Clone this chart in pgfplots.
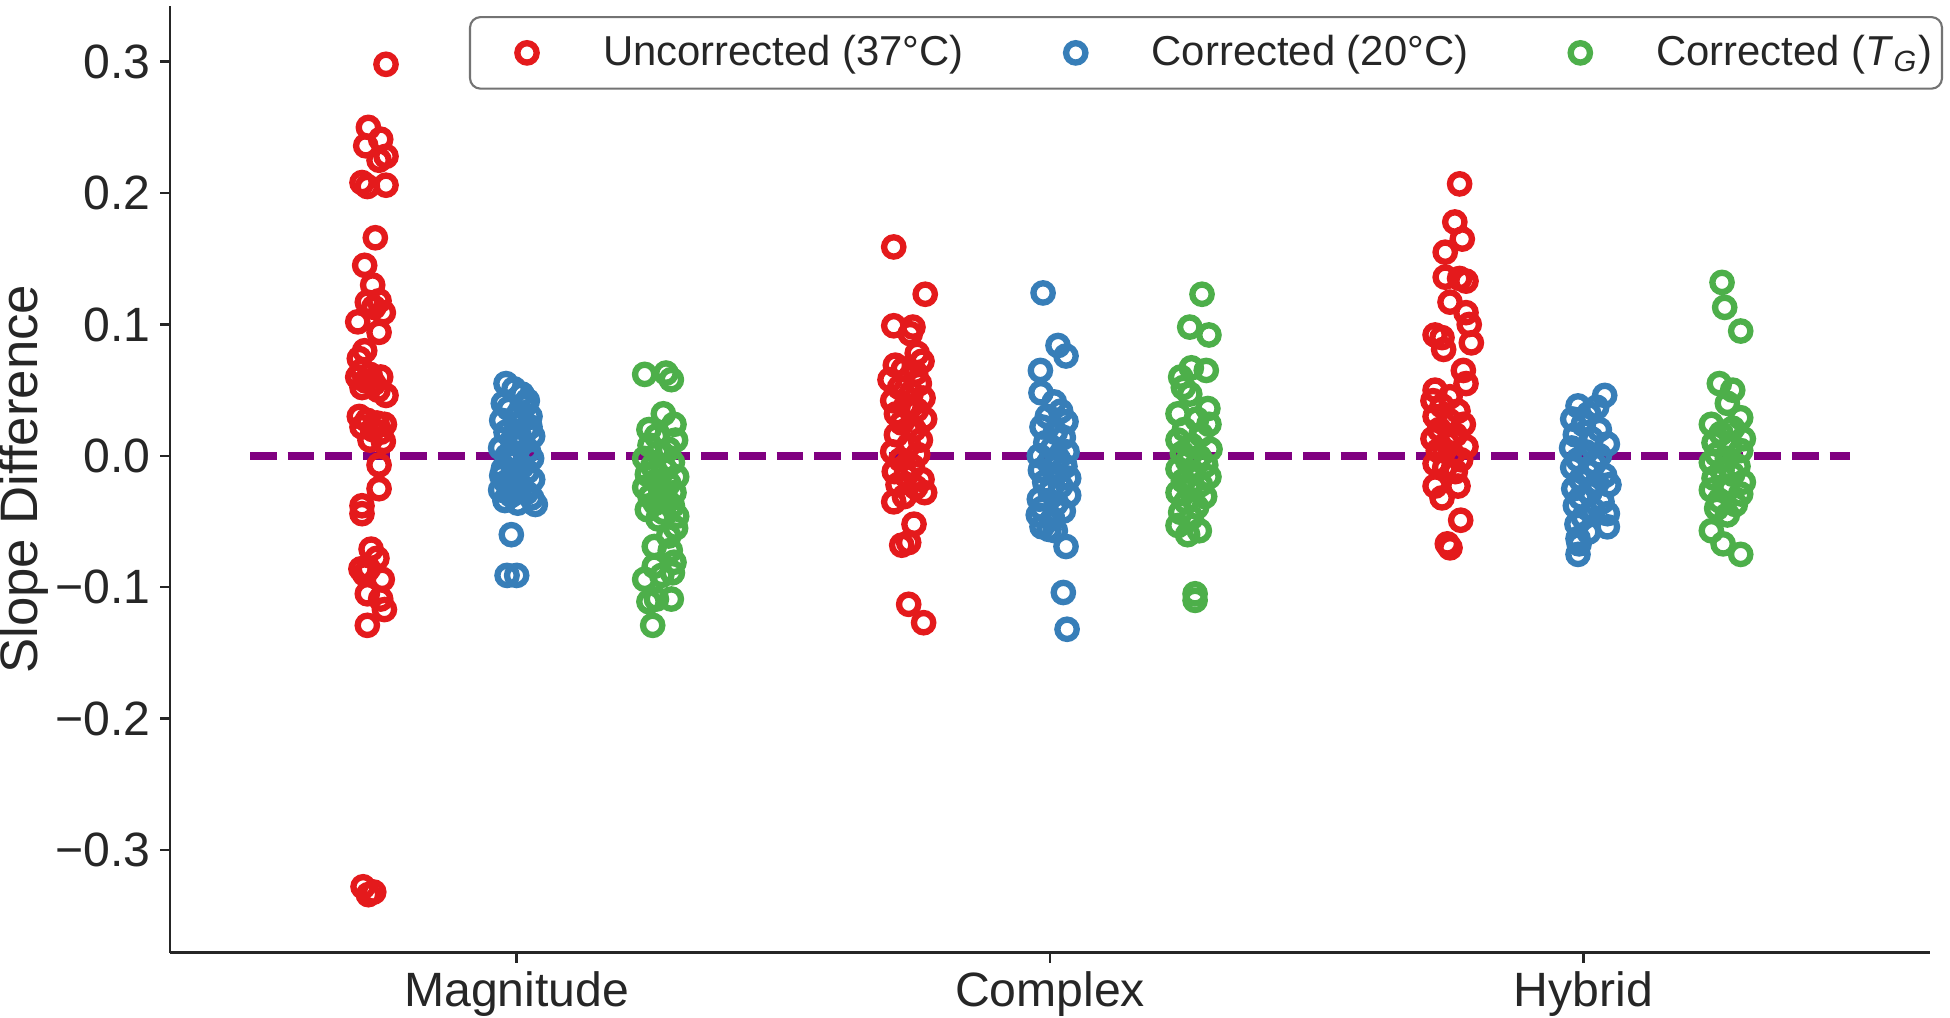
\documentclass[border=0pt]{standalone}
\usepackage{fontspec}
\setmainfont{Liberation Sans}
\usepackage{pgfplots}
\pgfplotsset{compat=1.18}
\definecolor{cred}{HTML}{E41A1C}
\definecolor{cblue}{HTML}{377EB8}
\definecolor{cgreen}{HTML}{4DAF4A}
\definecolor{cpurple}{HTML}{800080}
\definecolor{cspine}{HTML}{262626}
\pgfplotsset{
  ringlegend/.style={legend image code/.code={\path[draw=none,fill=none] (0,-0.17cm) rectangle (1.23cm,0.17cm); \draw[##1, only marks] plot coordinates {(0.47cm,0cm)};}},
}
\begin{document}
\begin{tikzpicture}
\begin{axis}[
  scale only axis, width=17.6cm, height=9.466cm,
  xmin=-0.65, xmax=2.65, ymin=-0.3781, ymax=0.3424,
  axis lines*=left, axis line style={-, cspine, line width=0.7pt},
  xtick={0,1,2}, xticklabels={Magnitude,Complex,Hybrid},
  ytick={-0.3,-0.2,-0.1,0,0.1,0.2,0.3},
  yticklabels={−0.3,−0.2,−0.1,0.0,0.1,0.2,0.3},
  tick align=outside, major tick length=0.1cm,
  tick style={cspine, line width=0.7pt},
  tick label style={font=\fontsize{13.7}{16}\selectfont, text=cspine, inner sep=2.5pt},
  ylabel={Slope Difference},
  every axis y label/.style={at={(rel axis cs:0,0.5)}, xshift=-1.465cm, rotate=90, anchor=center,
    font=\fontsize{15}{17}\selectfont, text=cspine},
  legend columns=3,
  legend style={at={(1.0074,0.9894)}, anchor=north east, draw=black!55, line width=0.6pt,
    rounded corners=3pt, inner xsep=0.1cm, inner ysep=0.18cm,
    font=\fontsize{11.9}{14}\selectfont, text=cspine,
    nodes={inner sep=0pt},
    /tikz/every even column/.append style={column sep=0.65cm}},
  every axis plot/.append style={only marks, mark=o, mark size=2.75pt},
]
\coordinate (bl) at (rel axis cs:0,0);
\coordinate (tr) at (rel axis cs:1,1);
\addplot[forget plot, sharp plot, no markers, cpurple, line width=2.1pt, dash pattern=on 7.6pt off 3.1pt] coordinates {(-0.5,0) (2.5,0)};
% Uncorrected (37 C)
\addplot[cred, mark options={solid, line width=1.8pt}, ringlegend] coordinates {
(-0.245,0.298) (-0.278,0.250) (-0.255,0.241) (-0.283,0.236) (-0.245,0.228) (-0.258,0.225)
(-0.290,0.208) (-0.280,0.205) (-0.245,0.206) (-0.265,0.166) (-0.285,0.145) (-0.270,0.130)
(-0.280,0.117) (-0.258,0.118) (-0.268,0.113) (-0.250,0.109) (-0.298,0.102) (-0.258,0.094)
(-0.285,0.080) (-0.295,0.074) (-0.290,0.065) (-0.275,0.062) (-0.298,0.060) (-0.255,0.060)
(-0.283,0.057) (-0.268,0.055) (-0.290,0.052) (-0.260,0.050) (-0.245,0.046) (-0.295,0.030)
(-0.280,0.027) (-0.262,0.025) (-0.248,0.024) (-0.290,0.022) (-0.270,0.020) (-0.255,0.018)
(-0.275,0.012) (-0.250,0.011) (-0.258,-0.007) (-0.258,-0.025) (-0.290,-0.038) (-0.290,-0.044)
(-0.273,-0.071) (-0.262,-0.078) (-0.292,-0.086) (-0.278,-0.086) (-0.285,-0.090) (-0.252,-0.094)
(-0.280,-0.105) (-0.255,-0.109) (-0.248,-0.117) (-0.280,-0.129) (-0.288,-0.328) (-0.268,-0.332)
(-0.278,-0.334)
(0.707,0.159) (0.766,0.123) (0.707,0.099) (0.743,0.098) (0.738,0.093) (0.751,0.078)
(0.710,0.069) (0.760,0.072) (0.725,0.066) (0.748,0.063) (0.700,0.058) (0.755,0.055)
(0.718,0.052) (0.740,0.048) (0.762,0.044) (0.705,0.042) (0.730,0.038) (0.750,0.035)
(0.712,0.032) (0.765,0.028) (0.722,0.025) (0.745,0.020) (0.757,0.012) (0.712,0.016)
(0.735,0.008) (0.705,0.003) (0.752,0.001) (0.720,-0.003) (0.742,-0.008) (0.708,-0.012)
(0.730,-0.015) (0.760,-0.018) (0.715,-0.022) (0.748,-0.024) (0.765,-0.028) (0.707,-0.035)
(0.727,-0.031) (0.745,-0.052) (0.735,-0.066) (0.722,-0.068) (0.735,-0.113) (0.763,-0.127)
(1.768,0.207) (1.759,0.178) (1.773,0.165) (1.741,0.155) (1.741,0.136) (1.768,0.135)
(1.780,0.133) (1.750,0.117) (1.780,0.109) (1.786,0.100) (1.722,0.092) (1.735,0.090)
(1.790,0.086) (1.738,0.081) (1.775,0.065) (1.780,0.055) (1.722,0.050) (1.718,0.042)
(1.750,0.045) (1.735,0.038) (1.765,0.034) (1.722,0.030) (1.748,0.027) (1.775,0.024)
(1.730,0.020) (1.760,0.016) (1.718,0.013) (1.745,0.010) (1.780,0.007) (1.728,0.004)
(1.755,0.001) (1.770,-0.003) (1.722,-0.006) (1.740,-0.009) (1.760,-0.012) (1.722,-0.023)
(1.765,-0.023) (1.735,-0.032) (1.770,-0.049) (1.750,-0.070) (1.745,-0.067)
};
\addlegendentry{Uncorrected (37°C)}
% Corrected (20 C)
\addplot[cblue, mark options={solid, line width=1.8pt}, ringlegend] coordinates {
(-0.020,0.055) (-0.005,0.051) (0.010,0.047) (-0.025,0.040) (0.020,0.042) (-0.015,0.036)
(0.005,0.033) (0.025,0.030) (-0.028,0.027) (0.000,0.024) (0.018,0.020) (-0.020,0.018)
(0.030,0.015) (-0.008,0.012) (0.012,0.010) (-0.030,0.006) (0.022,0.004) (0.000,0.002)
(-0.018,0.000) (0.028,-0.002) (-0.010,-0.005) (0.010,-0.008) (-0.025,-0.010) (0.020,-0.012)
(-0.005,-0.015) (0.030,-0.018) (-0.020,-0.020) (0.008,-0.023) (-0.030,-0.026) (0.018,-0.028)
(-0.010,-0.030) (0.028,-0.032) (-0.022,-0.034) (0.002,-0.036) (0.035,-0.037) (-0.010,-0.060)
(-0.018,-0.091) (0.000,-0.091) (0.015,0.038) (-0.012,-0.002) (0.005,0.015) (-0.028,-0.015)
(0.025,0.022) (-0.002,-0.026)
(0.987,0.124) (1.015,0.084) (1.030,0.076) (0.982,0.065) (0.983,0.048) (1.008,0.041)
(1.020,0.034) (0.995,0.030) (1.030,0.026) (0.985,0.022) (1.010,0.018) (1.025,0.014)
(0.992,0.010) (1.005,0.006) (1.032,0.003) (0.980,0.000) (1.015,-0.002) (0.998,-0.005)
(1.028,-0.008) (0.982,-0.011) (1.010,-0.014) (1.035,-0.017) (0.990,-0.020) (1.020,-0.023)
(1.000,-0.027) (1.035,-0.030) (0.980,-0.033) (1.012,-0.036) (0.985,-0.040) (1.025,-0.042)
(0.978,-0.045) (1.005,-0.048) (0.985,-0.054) (0.998,-0.056) (1.010,-0.057) (1.030,-0.069)
(1.025,-0.104) (1.032,-0.132)
(2.040,0.046) (1.990,0.038) (2.025,0.037) (2.010,0.032) (1.980,0.028) (2.000,0.024)
(2.030,0.020) (1.985,0.016) (2.015,0.013) (2.045,0.009) (1.978,0.006) (2.005,0.003)
(2.030,0.000) (1.990,-0.003) (2.020,-0.006) (1.980,-0.009) (2.010,-0.012) (2.040,-0.015)
(1.995,-0.018) (2.025,-0.021) (2.048,-0.022) (1.982,-0.025) (2.012,-0.028) (1.995,-0.032)
(2.035,-0.035) (1.985,-0.038) (2.018,-0.041) (2.045,-0.044) (2.000,-0.047) (2.045,-0.054)
(1.988,-0.052) (2.010,-0.058) (1.990,-0.063) (1.992,-0.067) (1.990,-0.075)
};
\addlegendentry{Corrected (20°C)}
% Corrected (T_G)
\addplot[cgreen, mark options={solid, line width=1.8pt}, ringlegend] coordinates {
(0.240,0.062) (0.280,0.063) (0.290,0.058) (0.275,0.032) (0.295,0.024) (0.248,0.020)
(0.262,0.015) (0.298,0.012) (0.250,0.008) (0.285,0.005) (0.265,0.002) (0.240,-0.002)
(0.292,-0.005) (0.255,-0.008) (0.278,-0.010) (0.245,-0.014) (0.300,-0.016) (0.262,-0.019)
(0.285,-0.021) (0.240,-0.024) (0.270,-0.026) (0.295,-0.028) (0.250,-0.031) (0.280,-0.033)
(0.260,-0.036) (0.292,-0.038) (0.245,-0.041) (0.275,-0.043) (0.298,-0.055) (0.285,-0.061)
(0.258,-0.069) (0.288,-0.072) (0.295,-0.081) (0.258,-0.084) (0.292,-0.089) (0.272,-0.091)
(0.240,-0.094) (0.290,-0.109) (0.248,-0.111) (0.262,-0.109) (0.255,-0.129) (0.265,-0.048)
(0.300,-0.046)
(1.285,0.123) (1.262,0.098) (1.298,0.092) (1.245,0.060) (1.265,0.067) (1.293,0.065)
(1.250,0.052) (1.262,0.047) (1.296,0.036) (1.240,0.032) (1.275,0.028) (1.298,0.024)
(1.252,0.020) (1.283,0.016) (1.240,0.012) (1.265,0.008) (1.300,0.005) (1.248,0.002)
(1.280,-0.001) (1.258,-0.004) (1.292,-0.007) (1.240,-0.010) (1.270,-0.013) (1.298,-0.016)
(1.250,-0.019) (1.282,-0.022) (1.262,-0.025) (1.240,-0.028) (1.290,-0.031) (1.255,-0.035)
(1.275,-0.039) (1.245,-0.043) (1.265,-0.047) (1.240,-0.053) (1.258,-0.060) (1.280,-0.057)
(1.272,-0.105) (1.272,-0.110)
(2.260,0.132) (2.265,0.113) (2.295,0.095) (2.255,0.055) (2.280,0.050) (2.270,0.040)
(2.295,0.029) (2.240,0.024) (2.280,0.021) (2.258,0.017) (2.300,0.013) (2.245,0.010)
(2.275,0.007) (2.295,0.004) (2.250,0.001) (2.270,-0.002) (2.240,-0.005) (2.290,-0.008)
(2.260,-0.011) (2.280,-0.014) (2.245,-0.017) (2.300,-0.020) (2.265,-0.023) (2.240,-0.026)
(2.295,-0.029) (2.285,-0.037) (2.255,-0.034) (2.270,-0.045) (2.240,-0.057) (2.262,-0.067)
(2.295,-0.075) (2.250,-0.040)
};
\addlegendentry{Corrected (\textit{T}\textsubscript{\textit{G}})}
\end{axis}
\pgfresetboundingbox
\path ([xshift=-1.70cm,yshift=-0.645cm]bl) rectangle ([xshift=0.2cm,yshift=0.06cm]tr);
\end{tikzpicture}
\end{document}
